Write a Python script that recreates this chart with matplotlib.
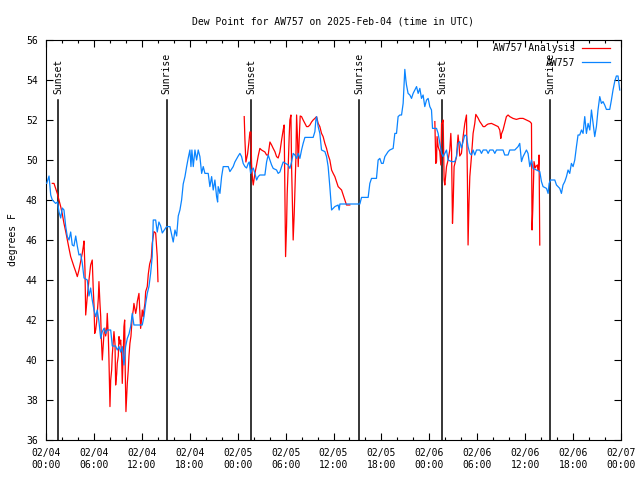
import numpy as np
import pandas as pd
import matplotlib
matplotlib.use('Agg')
import matplotlib.pyplot as plt
import matplotlib.dates as mdates
from matplotlib.lines import Line2D

plt.rcParams['font.family'] = ['DejaVu Sans Mono']

start = pd.Timestamp('2025-02-04 00:00')

# hours after 02/04 00:00 UTC and dew point (F), station obs
obs_hours = [0.09, 0.38, 0.59, 0.79, 1.21, 1.44, 1.63, 1.84, 2.04, 2.25, 2.47, 2.67, 2.88, 3.09,
             3.29, 3.50, 3.72, 3.92, 4.13, 4.34, 4.54, 4.76, 5.17, 5.38, 5.59, 5.79, 6.01, 6.22,
             6.42, 6.63, 6.85, 7.05, 7.26, 7.47, 7.67, 8.10, 8.30, 8.72, 8.92, 9.14, 9.35, 9.55,
             9.76, 9.97, 10.18, 10.39, 10.60, 10.80, 11.01, 12.05, 12.27, 12.48, 12.68, 12.89,
             13.10, 13.30, 13.43, 13.73, 13.93, 14.14, 14.36, 14.56, 15.10, 15.52, 15.93, 16.15,
             16.36, 16.56, 16.77, 16.98, 17.18, 17.40, 17.61, 17.81, 18.02, 18.15, 18.27, 18.44,
             18.65, 18.86, 19.06, 19.27, 19.49, 19.69, 19.90, 20.31, 20.52, 20.74, 20.94, 21.15,
             21.36, 21.49, 21.56, 21.78, 21.99, 22.19, 22.82, 23.03, 23.44, 23.65, 24.07, 24.28,
             24.49, 24.69, 24.91, 25.12, 25.32, 25.45, 25.62, 25.78, 25.95, 26.16, 26.37, 26.57,
             26.78, 27.41, 27.62, 27.82, 28.04, 28.25, 28.45, 28.87, 29.07, 29.29, 29.50, 29.70,
             30.33, 30.54, 30.75, 30.95, 31.16, 31.38, 31.58, 31.79, 32.00, 32.20, 32.42, 33.45,
             33.67, 33.79, 33.88, 34.08, 34.29, 34.50, 34.92, 35.13, 35.33, 35.54, 35.76, 36.17,
             36.58, 36.71, 36.80, 37.01, 39.30, 39.51, 40.34, 40.55, 40.76, 41.38, 41.59, 41.80,
             42.01, 42.22, 42.43, 42.84, 43.05, 43.47, 43.68, 43.89, 44.09, 44.31, 44.52, 44.72,
             44.81, 44.93, 45.06, 45.14, 45.34, 45.56, 45.77, 45.97, 46.18, 46.40, 46.60, 46.81,
             47.02, 47.22, 47.43, 47.65, 47.85, 48.06, 48.27, 48.40, 48.90, 49.10, 49.31, 49.53,
             49.73, 50.15, 50.35, 50.78, 51.19, 51.40, 51.60, 51.81, 52.02, 52.23, 52.44, 52.65,
             52.85, 53.07, 53.28, 53.48, 53.69, 53.91, 54.32, 54.53, 54.74, 55.16, 55.36, 55.57,
             55.98, 56.20, 56.41, 57.23, 57.44, 57.86, 58.07, 58.70, 59.11, 59.32, 59.54, 59.74,
             59.95, 60.16, 60.36, 60.58, 60.79, 60.99, 61.83, 62.04, 62.24, 62.67, 62.87, 63.00,
             63.17, 63.71, 63.92, 64.33, 64.54, 64.74, 64.96, 65.17, 65.37, 65.58, 65.79, 66.00,
             66.21, 66.42, 66.62, 66.83, 67.05, 67.25, 67.46, 67.67, 67.88, 68.09, 68.30, 68.50,
             68.71, 68.92, 69.12, 69.34, 69.55, 69.75, 69.96, 70.17, 70.59, 70.80, 71.00, 71.21,
             71.42, 71.63, 71.84]
obs_dewpt = [48.83, 49.2, 48.25, 48.0, 47.83, 47.9, 47.4, 47.1, 47.6, 47.5, 46.67, 46.17, 46.0, 46.4,
             45.75, 45.7, 46.2, 45.7, 45.25, 45.3, 44.85, 44.1, 44.0, 43.2, 43.6, 43.0, 42.5, 42.17,
             42.5, 41.92, 41.08, 41.42, 41.58, 41.33, 41.5, 41.5, 40.7, 40.7, 40.5, 40.67, 40.4, 40.67,
             39.75, 40.67, 41.08, 41.3, 41.67, 42.33, 41.75, 41.75, 42.17, 42.83, 43.33, 43.67,
             44.33, 45.17, 47.0, 47.0, 46.4, 46.9, 46.7, 46.35, 46.67, 46.67, 45.9, 46.5,
             46.2, 47.2, 47.5, 48.0, 48.8, 49.17, 49.67, 50.1, 50.5, 49.67, 50.5, 49.67,
             50.5, 50.0, 50.5, 50.17, 49.33, 49.67, 49.33, 49.33, 48.67, 49.17, 48.5, 49.0,
             48.17, 47.9, 48.67, 48.33, 49.17, 49.67, 49.67, 49.42, 49.67, 49.9, 50.2, 50.33,
             50.17, 49.83, 49.67, 49.6, 49.83, 49.9, 49.33, 49.5, 49.6, 49.33, 49.0, 49.17,
             49.25, 49.25, 49.9, 50.25, 50.0, 49.75, 49.58, 49.5, 49.33, 49.4, 49.67, 49.9,
             49.75, 49.58, 49.9, 50.33, 50.25, 50.08, 50.33, 50.08, 50.5, 50.83, 51.13, 51.13,
             51.42, 52.0, 52.17, 51.67, 51.33, 50.5, 50.42, 50.17, 49.67, 48.67, 47.5, 47.67,
             47.75, 47.5, 47.8, 47.8, 47.8, 48.13, 48.13, 48.83, 49.08, 49.08, 50.0, 50.08,
             49.83, 49.83, 50.17, 50.42, 50.5, 50.58, 51.33, 51.33, 52.17, 52.25, 52.25, 52.83,
             53.58, 54.53, 54.0, 53.75, 53.33, 53.25, 53.08, 53.33, 53.5, 53.67, 53.33, 53.58,
             53.08, 53.25, 52.67, 53.0, 53.08, 52.67, 52.5, 51.58, 51.58, 51.33, 50.83, 50.33,
             50.17, 50.5, 50.0, 49.92, 49.92, 50.17, 50.83, 50.92, 50.6, 50.92, 51.25, 51.2,
             50.67, 50.33, 50.25, 50.5, 50.25, 50.5, 50.5, 50.33, 50.5, 50.5, 50.33, 50.5,
             50.5, 50.33, 50.5, 50.5, 50.25, 50.25, 50.5, 50.5, 50.67, 50.83, 49.92, 50.17,
             50.33, 50.5, 50.33, 49.67, 50.0, 49.58, 49.42, 48.92, 48.67, 48.58, 48.33, 48.83,
             49.0, 49.0, 48.75, 48.58, 48.33, 48.75, 48.92, 49.17, 49.5, 49.33, 49.83, 49.67,
             50.0, 50.67, 51.25, 51.25, 51.5, 51.33, 52.17, 51.33, 51.83, 51.5, 52.5, 51.83,
             51.17, 51.67, 52.5, 53.17, 52.83, 52.92, 52.75, 52.53, 52.53, 53.0, 53.5, 53.92,
             54.2, 54.2, 53.5]

# analysis dew point (F), NaN where no analysis
ana_hours = [0.79, 1.00, 1.21, 1.41, 1.63, 1.84, 2.04, 2.25, 2.47, 2.67, 2.88, 3.09, 3.29, 3.50,
             3.72, 3.92, 4.13, 4.34, 4.54, 4.67, 4.76, 4.88, 4.97, 5.09, 5.17, 5.38, 5.59, 5.79,
             5.92, 6.01, 6.10, 6.22, 6.34, 6.42, 6.55, 6.63, 6.76, 6.85, 6.92, 7.05, 7.17, 7.26,
             7.38, 7.47, 7.59, 7.67, 7.80, 7.88, 8.01, 8.10, 8.22, 8.30, 8.43, 8.51, 8.64, 8.72,
             8.85, 8.92, 9.05, 9.14, 9.26, 9.35, 9.47, 9.55, 9.67, 9.76, 9.85, 9.92, 10.01, 10.10,
             10.18, 10.30, 10.39, 10.51, 10.64, 10.80, 10.93, 11.01, 11.23, 11.35, 11.43, 11.64,
             11.76, 11.85, 11.98, 12.05, 12.18, 12.27, 12.39, 12.48, 12.68, 12.81, 12.98, 13.18,
             13.30, 13.52, 13.73, 13.93, 14.02, 14.1,
             24.82, 24.91, 25.03, 25.24, 25.41, 25.53, 25.66, 25.74, 25.87, 25.95, 26.16, 26.37,
             26.57, 26.78, 26.99, 27.41, 27.62, 27.82, 28.04, 28.25, 28.45, 28.66, 28.87, 29.07,
             29.29, 29.50, 29.70, 29.82, 29.91, 30.00, 30.12, 30.20, 30.33, 30.45, 30.54, 30.67,
             30.75, 30.83, 30.95, 31.08, 31.16, 31.29, 31.38, 31.50, 31.58, 31.70, 31.83, 32.00,
             32.20, 32.42, 32.63, 32.83, 33.04, 33.25, 33.45, 33.67, 33.88, 34.08, 34.29, 34.50,
             34.70, 34.92, 35.13, 35.33, 35.54, 35.76, 35.96, 36.17, 36.38, 36.58, 36.80, 37.01,
             37.21, 37.42, 37.63, 37.83, 38.04, 38.1,
             48.69, 48.81, 48.90, 48.97, 49.10, 49.25, 49.31, 49.44, 49.53, 49.60, 49.73, 49.85,
             49.94, 50.15, 50.35, 50.56, 50.69, 50.78, 50.90, 50.98, 51.10, 51.25, 51.40, 51.60,
             51.73, 51.81, 52.02, 52.23, 52.44, 52.65, 52.77, 52.85, 52.96, 53.07, 53.28, 53.48,
             53.69, 53.82, 54.10, 54.32, 54.53, 54.74, 54.94, 55.16, 55.36, 55.78, 56.20, 56.61,
             56.82, 56.95, 57.03, 57.23, 57.44, 57.65, 57.86, 58.07, 58.48, 58.90, 59.32, 59.74,
             60.16, 60.58, 60.79, 60.86, 60.95, 61.11, 61.26, 61.39, 61.54, 61.64, 61.74, 61.83]
ana_dewpt = [48.83, 48.83, 48.58, 48.33, 48.0, 47.67, 47.3, 46.83, 46.42, 46.0, 45.58, 45.17, 44.92, 44.67,
             44.42, 44.17, 44.5, 44.92, 45.33, 45.67, 45.95, 44.5, 42.25, 42.83, 43.17, 44.0, 44.75, 45.0,
             43.5, 42.75, 41.33, 41.5, 41.9, 42.33, 43.08, 43.92, 42.8, 42.17, 41.17, 40.0, 40.8, 41.33,
             41.6, 41.2, 41.5, 42.33, 41.2, 40.08, 37.67, 39.0, 39.5, 40.25, 41.0, 41.42, 40.8, 38.75,
             39.3, 39.83, 40.2, 41.17, 40.8, 41.0, 40.17, 38.83, 40.3, 41.67, 42.0, 39.5, 37.42, 38.17,
             38.83, 39.5, 40.2, 40.83, 41.2, 42.17, 42.5, 42.83, 42.33, 42.6, 42.92, 43.33,
             42.3, 41.58, 42.1, 42.5, 42.17, 42.5, 42.83, 43.42, 43.67, 44.3, 44.8, 45.08,
             45.83, 46.42, 46.35, 45.17, 43.92, np.nan,
             52.17, 51.0, 49.9, 50.3, 50.9, 51.4, 51.4, 49.8, 49.0, 48.75, 49.33, 49.75,
             50.2, 50.58, 50.5, 50.4, 50.25, 50.25, 50.9, 50.75, 50.58, 50.42, 50.17, 50.1,
             50.4, 51.0, 51.5, 51.75, 48.58, 45.17, 46.67, 48.3, 49.67, 51.17, 52.0, 52.25,
             49.67, 48.3, 46.0, 47.3, 48.33, 50.08, 52.25, 51.0, 49.67, 51.0, 52.2, 52.17,
             52.0, 51.83, 51.67, 51.67, 51.75, 51.9, 52.0, 52.08, 52.17, 51.83, 51.67, 51.33,
             51.17, 50.83, 50.58, 50.25, 50.0, 49.5, 49.33, 49.17, 48.92, 48.67, 48.58, 48.5,
             48.25, 48.0, 47.75, 47.75, 47.75, np.nan,
             51.92, 49.83, 49.92, 51.17, 50.67, 50.5, 50.42, 49.75, 51.83, 51.83, 52.0, 49.0,
             48.75, 49.67, 50.0, 50.5, 51.33, 50.5, 46.83, 47.7, 49.67, 49.9, 50.17, 51.25,
             50.7, 50.2, 50.33, 51.17, 51.83, 52.25, 49.0, 45.75, 47.8, 49.17, 50.2, 51.33,
             51.83, 52.28, 52.1, 51.92, 51.8, 51.67, 51.67, 51.75, 51.8, 51.83, 51.75, 51.67,
             51.5, 51.08, 51.3, 51.5, 51.83, 52.17, 52.25, 52.17, 52.08, 52.03, 52.08, 52.08,
             52.0, 51.92, 51.83, 46.5, 47.5, 49.92, 49.6, 49.7, 49.75, 49.5, 50.25, 45.75]

sun_hours = [1.54, 15.09, 25.68, 39.18, 49.59, 63.13]
sun_labels = ['Sunset', 'Sunrise', 'Sunset', 'Sunrise', 'Sunset', 'Sunrise']

obs_t = start + pd.to_timedelta(obs_hours, unit='h')
ana_t = start + pd.to_timedelta(ana_hours, unit='h')
sun_t = start + pd.to_timedelta(sun_hours, unit='h')

fig = plt.figure(figsize=(6.4, 4.8), dpi=100)
ax = fig.add_axes([46/640, 40/480, 575/640, 400/480])

for t, lab in zip(sun_t, sun_labels):
    ax.plot([t, t], [36, 53], color='black', lw=1.1, zorder=1)
    ax.text(t, 53.3, lab, rotation=90, ha='center', va='bottom', fontsize=7)

ax.plot(ana_t, ana_dewpt, color='#ff0000', lw=0.9, zorder=2)
ax.plot(obs_t, obs_dewpt, color='#0a84ff', lw=0.9, zorder=3)

ax.set_xlim(start, start + pd.Timedelta(hours=72))
ax.set_ylim(36, 56)
ax.set_yticks(np.arange(36, 57, 2))
ax.xaxis.set_major_locator(mdates.HourLocator(byhour=[0, 6, 12, 18]))
ax.xaxis.set_minor_locator(mdates.HourLocator(interval=2))
ax.xaxis.set_major_formatter(mdates.DateFormatter('%m/%d\n%H:%M'))
ax.tick_params(which='both', direction='in', top=True, right=True, labelsize=7, width=0.8)
ax.tick_params(which='major', length=5, pad=6)
ax.tick_params(which='minor', length=2.5)
for s in ax.spines.values():
    s.set_linewidth(0.8)

ax.set_title('Dew Point for AW757 on 2025-Feb-04 (time in UTC)', fontsize=7, pad=11)
ax.set_ylabel('degrees F', fontsize=7, labelpad=6)

handles = [Line2D([], [], color='#ff0000', lw=0.9), Line2D([], [], color='#0a84ff', lw=0.9)]
ax.legend(handles, ['AW757 Analysis', 'AW757'], loc='upper right', frameon=False,
          markerfirst=False, fontsize=7, handlelength=2.9, handletextpad=0.7,
          borderpad=0.2, borderaxespad=0.0, labelspacing=0.45,
          bbox_to_anchor=(0.984, 0.997))

fig.savefig('out.png', dpi=100)
